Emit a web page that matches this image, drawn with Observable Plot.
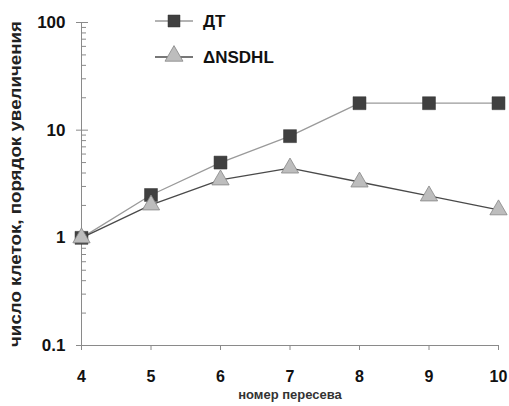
<!DOCTYPE html>
<html><head><meta charset="utf-8">
<script src="https://cdn.jsdelivr.net/npm/d3@7"></script>
<script src="https://cdn.jsdelivr.net/npm/@observablehq/plot@0.6"></script>
<style>
body{margin:0;background:#fff;}
#wrap{position:relative;width:509px;height:406px;}
#legend{position:absolute;left:0;top:0;}
</style>
</head><body><div id="wrap"></div>
<script>
const passages = [4, 5, 6, 7, 8, 9, 10];
const dtValues = [1, 2.5, 5.0, 8.8, 17.8, 17.8, 17.8];
const nsdhlValues = [1, 2.02, 3.45, 4.45, 3.3, 2.45, 1.82];
const seriesNames = ["ДТ", "ΔNSDHL"];
const yMajorTicks = [0.1, 1, 10, 100];
const yMinorTicks = [0.2,0.3,0.4,0.5,0.6,0.7,0.8,0.9,2,3,4,5,6,7,8,9,20,30,40,50,60,70,80,90];
const xTicks = [4, 5, 6, 7, 8, 9, 10];
const yTitle = "число клеток, порядок увеличения";
const xTitle = "номер пересева";

const dt = passages.map((p, i) => ({x: p, y: dtValues[i]}));
const ns = passages.map((p, i) => ({x: p, y: nsdhlValues[i]}));
const axisColor = "#8a8a8a";
const font = "'Liberation Sans', Arial, sans-serif";

const chart = Plot.plot({
  width: 509, height: 406,
  marginLeft: 81, marginRight: 11, marginTop: 22, marginBottom: 61,
  style: {fontFamily: font, background: "#fff", overflow: "visible"},
  x: {domain: [4, 10]},
  y: {type: "log", domain: [0.1, 100]},
  marks: [
    Plot.ruleX([4], {y1: 0.1, y2: 100, stroke: axisColor}),
    Plot.ruleY([0.1], {x1: 4, x2: 10, stroke: axisColor}),
    Plot.axisY({ticks: yMinorTicks, tickSize: -5, stroke: axisColor, text: null, label: null}),
    Plot.axisY({ticks: yMajorTicks, tickSize: -7, stroke: axisColor, text: null, label: null}),
    Plot.axisY({ticks: yMajorTicks, tickSize: 5, tickPadding: 11, stroke: axisColor, label: null,
      tickFormat: d => String(d), fontSize: 17, fontWeight: "bold", fill: "#111"}),
    Plot.axisX({ticks: xTicks, tickSize: 5, tickPadding: 20, stroke: axisColor, label: null,
      tickFormat: d => String(d), fontSize: 16, fontWeight: "bold", fill: "#111"}),
    Plot.line(dt, {x: "x", y: "y", stroke: "#9a9a9a", strokeWidth: 1.3}),
    Plot.line(ns, {x: "x", y: "y", stroke: "#4a4a4a", strokeWidth: 1.3}),
    Plot.dot(dt, {x: "x", y: "y", symbol: "square", r: 7.3, fill: "#404040", stroke: "#333", strokeWidth: 0.5}),
    Plot.dot(ns, {x: "x", y: "y", symbol: "triangle", r: 6.4, fill: "#bdbdbd", stroke: "#858585", strokeWidth: 0.8}),
    Plot.text([xTitle], {frameAnchor: "bottom", dy: 53, fontSize: 13, fontWeight: "bold", fill: "#333",
      fontFamily: "'Liberation Sans Narrow', 'Liberation Sans', sans-serif"}),
    Plot.text([yTitle], {frameAnchor: "left", textAnchor: "middle", dx: -66, rotate: -90, fontSize: 16.5,
      fontWeight: "bold", fill: "#222"})
  ]
});
const wrap = document.getElementById("wrap");
wrap.appendChild(chart);
// fit the rotated y title to the frame height, like the reference
chart.querySelectorAll("text").forEach(t => {
  if (t.textContent === yTitle) {
    t.setAttribute("textLength", 326);
    t.setAttribute("lengthAdjust", "spacingAndGlyphs");
  }
});

// legend
const ns_ = "http://www.w3.org/2000/svg";
const leg = document.createElementNS(ns_, "svg");
leg.setAttribute("id", "legend");
leg.setAttribute("width", 300); leg.setAttribute("height", 80);
const rows = [
  {name: seriesNames[0], cy: 21, line: "#9a9a9a", sym: "square"},
  {name: seriesNames[1], cy: 57, line: "#4a4a4a", sym: "triangle"}
];
for (const r of rows) {
  const l = document.createElementNS(ns_, "line");
  l.setAttribute("x1", 155); l.setAttribute("x2", 193); l.setAttribute("y1", r.cy); l.setAttribute("y2", r.cy);
  l.setAttribute("stroke", r.line); l.setAttribute("stroke-width", 1.3);
  leg.appendChild(l);
  const p = document.createElementNS(ns_, "path");
  if (r.sym === "square") {
    p.setAttribute("d", d3.symbol(d3.symbolSquare, 144)());
    p.setAttribute("fill", "#404040"); p.setAttribute("stroke", "#333"); p.setAttribute("stroke-width", 0.5);
  } else {
    p.setAttribute("d", d3.symbol(d3.symbolTriangle, 140)());
    p.setAttribute("fill", "#bdbdbd"); p.setAttribute("stroke", "#858585"); p.setAttribute("stroke-width", 0.8);
  }
  p.setAttribute("transform", `translate(174,${r.cy + (r.sym === "triangle" ? -1 : 0)})`);
  leg.appendChild(p);
  const t = document.createElementNS(ns_, "text");
  t.setAttribute("x", 203); t.setAttribute("y", r.cy); t.setAttribute("dy", "0.35em");
  t.setAttribute("font-family", font); t.setAttribute("font-size", 17); t.setAttribute("font-weight", "bold");
  t.setAttribute("fill", "#111");
  t.textContent = r.name;
  leg.appendChild(t);
}
wrap.appendChild(leg);
</script>
</body></html>
